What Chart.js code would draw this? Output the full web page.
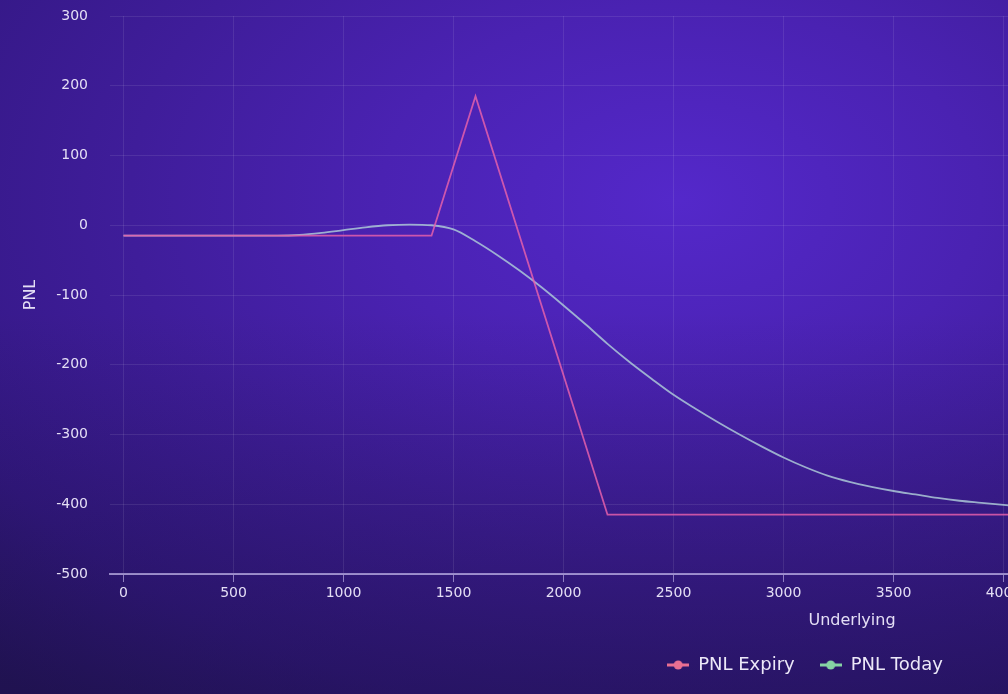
<!DOCTYPE html>
<html lang="en">
<head>
  <meta charset="UTF-8">
  <title>PNL chart</title>
  <script src="https://cdn.jsdelivr.net/npm/chart.js"></script>
  <style>
    html, body {
      margin: 0;
      padding: 0;
      overflow: hidden;
      background: #1d1440;
    }
    .frame {
      position: relative;
      width: 1008px;
      height: 694px;
      overflow: hidden;
      background:
        linear-gradient(to bottom, rgba(20, 14, 50, 0) 45%, rgba(20, 14, 50, 0.4) 100%),
        radial-gradient(ellipse 1000px 650px at 680px 200px, #5428ca 0%, #4a22b2 30%, #3f1d9a 55%, #341885 80%, #281565 100%);
    }
    #chart {
      position: absolute;
      left: 0;
      top: 0;
    }
  </style>
</head>
<body>

<div class="frame">
  <canvas id="chart" width="1610" height="694" style="width:1610px;height:694px"></canvas>
</div>

<script>
  // PNL at expiry (kinks only)
  const expiryUnderlying = [0, 1400, 1600, 2200, 4100];
  const expiryPnl = [-15, -15, 185, -415, -415];

  // PNL today
  const todayUnderlying = [0, 100, 200, 300, 400, 500, 600, 700, 800, 900, 1000, 1100, 1200, 1300, 1400,
    1500, 1600, 1700, 1800, 1900, 2000, 2100, 2200, 2300, 2400, 2500, 2600, 2700, 2800, 2900, 3000,
    3100, 3200, 3300, 3400, 3500, 3600, 3700, 3800, 3900, 4000, 4100];
  const todayPnl = [-15, -15, -15, -15, -15, -15, -15, -15, -14, -11, -7, -3, 0, 1, 0,
    -6, -23, -43, -65, -89, -115, -142, -170, -196, -220, -243, -263, -282, -300, -317, -333,
    -347, -359, -368, -375, -381, -386, -391, -395, -398, -401, -404];

  const xTickValues = [0, 500, 1000, 1500, 2000, 2500, 3000, 3500, 4000, 4500, 5000, 5500, 6000, 6500];
  const yTickValues = [300, 200, 100, 0, -100, -200, -300, -400, -500];

  // legend marker: a short line with a dot in the middle
  function marker(color) {
    const c = document.createElement('canvas');
    c.width = 22;
    c.height = 10;
    const g = c.getContext('2d');
    g.strokeStyle = color;
    g.lineWidth = 3;
    g.beginPath();
    g.moveTo(0, 5);
    g.lineTo(22, 5);
    g.stroke();
    g.fillStyle = color;
    g.beginPath();
    g.arc(11, 5, 4.5, 0, Math.PI * 2);
    g.fill();
    return c;
  }

  Chart.defaults.font.family = "'DejaVu Sans', sans-serif";
  Chart.defaults.color = '#e4def5';

  const gridColor = 'rgba(255, 255, 255, 0.09)';

  new Chart(document.getElementById('chart'), {
    type: 'line',
    data: {
      datasets: [{
        label: 'PNL Expiry',
        data: expiryUnderlying.map((u, i) => ({ x: u, y: expiryPnl[i] })),
        borderColor: 'rgba(228, 95, 172, 0.85)',
        borderWidth: 1.8,
        pointRadius: 0,
        pointHoverRadius: 0,
        pointStyle: marker('#e96f92'),
        tension: 0
      }, {
        label: 'PNL Today',
        data: todayUnderlying.map((u, i) => ({ x: u, y: todayPnl[i] })),
        borderColor: 'rgba(172, 200, 215, 0.85)',
        borderWidth: 1.8,
        pointRadius: 0,
        pointHoverRadius: 0,
        pointStyle: marker('#86d3a4'),
        cubicInterpolationMode: 'monotone'
      }]
    },
    options: {
      responsive: false,
      animation: false,
      layout: {
        padding: { left: 16, right: 16, top: 16, bottom: 10 }
      },
      plugins: {
        legend: {
          position: 'bottom',
          labels: {
            usePointStyle: true,
            pointStyleWidth: 22,
            padding: 25,
            color: '#ece8f8',
            font: { size: 18 }
          }
        },
        tooltip: { enabled: false }
      },
      scales: {
        x: {
          type: 'linear',
          min: -61.4,
          max: 6684,
          afterBuildTicks: scale => {
            scale.ticks = xTickValues.map(v => ({ value: v }));
          },
          afterFit: scale => { scale.height = 57; },
          ticks: {
            padding: 3,
            maxRotation: 0,
            autoSkip: false,
            font: { size: 14 },
            callback: value => String(value)
          },
          grid: {
            color: gridColor,
            tickColor: 'rgba(220, 210, 255, 0.55)',
            tickLength: 8,
            drawTicks: true
          },
          border: {
            color: 'rgba(220, 210, 255, 0.6)',
            width: 2
          },
          title: {
            display: true,
            text: 'Underlying',
            font: { size: 16 },
            padding: { top: 0, bottom: 1 }
          }
        },
        y: {
          min: -500,
          max: 300,
          afterBuildTicks: scale => {
            scale.ticks = yTickValues.map(v => ({ value: v }));
          },
          afterFit: scale => { scale.width = 94; },
          ticks: {
            padding: 3,
            font: { size: 14 },
            callback: value => String(value)
          },
          grid: {
            color: gridColor,
            drawTicks: true,
            tickLength: 19,
            tickColor: 'rgba(0, 0, 0, 0)'
          },
          border: { display: false },
          title: {
            display: true,
            text: 'PNL',
            font: { size: 16 },
            padding: { top: 5.4, bottom: 0 }
          }
        }
      }
    }
  });
</script>

</body>
</html>
